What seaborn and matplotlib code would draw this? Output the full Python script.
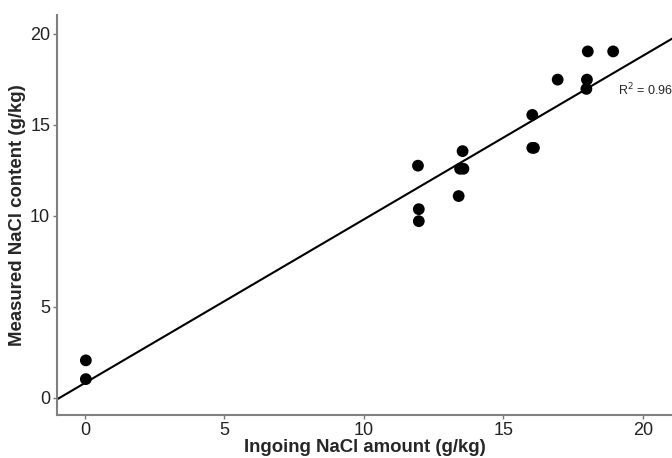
import numpy as np
import pandas as pd
import seaborn as sns
import matplotlib.pyplot as plt

# Values
ingoing = [0.03, 0.03, 11.94, 11.97, 11.97, 13.40, 13.45, 13.57, 13.54,
           16.04, 16.04, 16.10, 16.95, 17.98, 18.00, 18.03, 18.94]
measured = [2.05, 1.02, 12.75, 10.36, 9.70, 11.08, 12.58, 12.58, 13.55,
            15.54, 13.73, 13.73, 17.48, 16.97, 17.48, 19.03, 19.03]
r2_label = "R$^2$ = 0.96"

df = pd.DataFrame({"ingoing": ingoing, "measured": measured})

sns.set_style("white")
plt.rcParams['font.family'] = ['Liberation Sans', 'DejaVu Sans']

fig, ax = plt.subplots(figsize=(6.72, 4.58), dpi=100)
ax.set_xlim(-1, 21.05)
ax.set_ylim(-0.95, 21.05)

sns.regplot(data=df, x="ingoing", y="measured", ax=ax, ci=None, truncate=False,
            scatter_kws={"s": 72, "color": "black", "edgecolor": "none", "alpha": 1},
            line_kws={"color": "black", "linewidth": 1.5})

ax.text(19.1, 16.9, r2_label, fontsize=9, ha="left", va="center")

ax.set_xticks([0, 5, 10, 15, 20])
ax.set_yticks([0, 5, 10, 15, 20])
ax.set_xlabel("Ingoing NaCl amount (g/kg)", fontsize=13.4, fontweight="bold", labelpad=0)
ax.set_ylabel("Measured NaCl content (g/kg)", fontsize=13.4, fontweight="bold", labelpad=3)
ax.tick_params(axis="both", labelsize=13, length=3, width=1, color="#777777",
               direction="out", bottom=True, left=True, labelcolor="#222222", pad=2)
sns.despine(ax=ax)
for side in ["left", "bottom"]:
    ax.spines[side].set_color("#808080")
    ax.spines[side].set_linewidth(1.5)

fig.subplots_adjust(left=0.085, right=1.0, top=0.968, bottom=0.094)
fig.savefig("out.png", dpi=100)
